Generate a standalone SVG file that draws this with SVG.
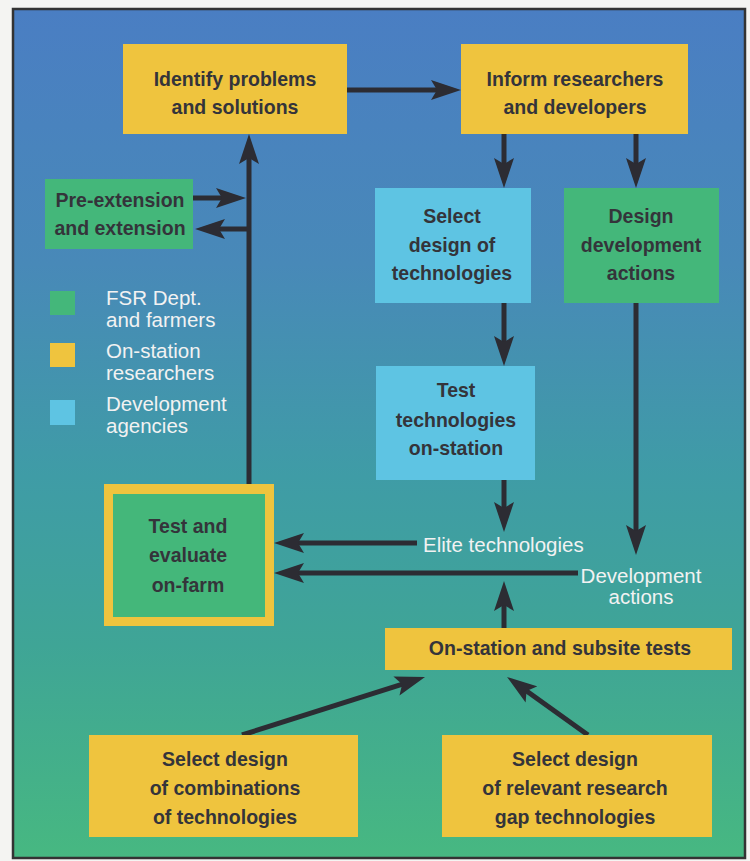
<svg xmlns="http://www.w3.org/2000/svg" width="750" height="861" viewBox="0 0 750 861">
<defs>
<linearGradient id="bg" x1="0" y1="0" x2="0" y2="1">
<stop offset="0" stop-color="#4a7ec3"/>
<stop offset="0.3" stop-color="#4889b8"/>
<stop offset="0.55" stop-color="#3f9ca6"/>
<stop offset="0.75" stop-color="#3fa596"/>
<stop offset="1" stop-color="#47b881"/>
</linearGradient>
<marker id="ah" markerUnits="userSpaceOnUse" viewBox="0 0 30 20" refX="18" refY="10" markerWidth="30" markerHeight="20" orient="auto">
<path d="M0,0 L30,10 L0,20 L6,10 Z" fill="#2c2c33"/>
</marker>
<style>
.y{fill:#efc43e}
.g{fill:#44b77a}
.c{fill:#5ec4e3}
.t{font-family:"Liberation Sans",Arial,sans-serif;font-weight:bold;font-size:21px;fill:#34343a;text-anchor:middle}
.w{font-family:"Liberation Sans",Arial,sans-serif;font-size:20.5px;fill:#f2f2f2}
.ln{stroke:#2c2c33;stroke-width:5;fill:none}
.a{marker-end:url(#ah)}
</style>
</defs>
<rect width="750" height="861" fill="#f4f4f2"/>
<rect x="13" y="9" width="732" height="849" fill="url(#bg)" stroke="#333" stroke-width="2.5"/>

<g id="connectors">
<line class="ln a" x1="347" y1="90" x2="449" y2="90"/>
<line class="ln a" x1="504" y1="134" x2="504" y2="176"/>
<line class="ln a" x1="636" y1="134" x2="636" y2="176"/>
<line class="ln a" x1="504" y1="303" x2="504" y2="354"/>
<line class="ln a" x1="504" y1="480" x2="504" y2="520"/>
<line class="ln a" x1="636" y1="303" x2="636" y2="543"/>
<line class="ln a" x1="249" y1="484" x2="249" y2="146"/>
<line class="ln a" x1="193" y1="198" x2="234" y2="198"/>
<line class="ln a" x1="251" y1="229" x2="207" y2="229"/>
<line class="ln a" x1="417" y1="543" x2="286" y2="543"/>
<line class="ln a" x1="578" y1="573" x2="286" y2="573"/>
<line class="ln a" x1="504" y1="628" x2="504" y2="593"/>
<line class="ln a" x1="242" y1="735" x2="413.6" y2="680.6"/>
<line class="ln a" x1="588" y1="735" x2="516.8" y2="684"/>
</g>

<g id="identify">
<rect class="y" x="123" y="44" width="224" height="90"/>
<text class="t" transform="translate(235 0) scale(0.93 1)" y="86">Identify problems</text>
<text class="t" transform="translate(235 0) scale(0.93 1)" y="114">and solutions</text>
</g>
<g id="inform">
<rect class="y" x="461" y="44" width="227" height="90"/>
<text class="t" transform="translate(575 0) scale(0.93 1)" y="86">Inform researchers</text>
<text class="t" transform="translate(575 0) scale(0.93 1)" y="114">and developers</text>
</g>
<g id="preext">
<rect class="g" x="45" y="179" width="148" height="70"/>
<text class="t" transform="translate(120 0) scale(0.93 1)" y="207">Pre-extension</text>
<text class="t" transform="translate(120 0) scale(0.93 1)" y="235">and extension</text>
</g>
<g id="selecttech">
<rect class="c" x="375" y="188" width="156" height="115"/>
<text class="t" transform="translate(452 0) scale(0.93 1)" y="223">Select</text>
<text class="t" transform="translate(452 0) scale(0.93 1)" y="252">design of</text>
<text class="t" transform="translate(452 0) scale(0.93 1)" y="280">technologies</text>
</g>
<g id="designdev">
<rect class="g" x="564" y="188" width="155" height="115"/>
<text class="t" transform="translate(641 0) scale(0.93 1)" y="223">Design</text>
<text class="t" transform="translate(641 0) scale(0.93 1)" y="252">development</text>
<text class="t" transform="translate(641 0) scale(0.93 1)" y="280">actions</text>
</g>
<g id="teston">
<rect class="c" x="376" y="366" width="159" height="114"/>
<text class="t" transform="translate(456 0) scale(0.93 1)" y="397">Test</text>
<text class="t" transform="translate(456 0) scale(0.93 1)" y="427">technologies</text>
<text class="t" transform="translate(456 0) scale(0.93 1)" y="455">on-station</text>
</g>
<g id="testfarm">
<rect class="y" x="104" y="484" width="170" height="142"/>
<rect class="g" x="113" y="494" width="152" height="123"/>
<text class="t" transform="translate(188 0) scale(0.93 1)" y="533">Test and</text>
<text class="t" transform="translate(188 0) scale(0.93 1)" y="562">evaluate</text>
<text class="t" transform="translate(188 0) scale(0.93 1)" y="592">on-farm</text>
</g>
<g id="elite">
<text class="w" x="423" y="552">Elite technologies</text>
</g>
<g id="devactions">
<text class="w" x="641" y="583" text-anchor="middle">Development</text>
<text class="w" x="641" y="604" text-anchor="middle">actions</text>
</g>
<g id="onstation">
<rect class="y" x="385" y="628" width="347" height="42"/>
<text class="t" transform="translate(560 0) scale(0.93 1)" y="655">On-station and subsite tests</text>
</g>
<g id="selectcomb">
<rect class="y" x="89" y="735" width="269" height="102"/>
<text class="t" transform="translate(225 0) scale(0.93 1)" y="766">Select design</text>
<text class="t" transform="translate(225 0) scale(0.93 1)" y="795">of combinations</text>
<text class="t" transform="translate(225 0) scale(0.93 1)" y="824">of technologies</text>
</g>
<g id="selectgap">
<rect class="y" x="442" y="735" width="270" height="102"/>
<text class="t" transform="translate(575 0) scale(0.93 1)" y="766">Select design</text>
<text class="t" transform="translate(575 0) scale(0.93 1)" y="795">of relevant research</text>
<text class="t" transform="translate(575 0) scale(0.93 1)" y="824">gap technologies</text>
</g>
<g id="legend">
<rect class="g" x="50" y="291" width="25" height="24"/>
<text class="w" x="106" y="305">FSR Dept.</text>
<text class="w" x="106" y="327">and farmers</text>
<rect class="y" x="50" y="343" width="25" height="24"/>
<text class="w" x="106" y="358">On-station</text>
<text class="w" x="106" y="380">researchers</text>
<rect class="c" x="50" y="400" width="25" height="25"/>
<text class="w" x="106" y="411">Development</text>
<text class="w" x="106" y="433">agencies</text>
</g>
</svg>
